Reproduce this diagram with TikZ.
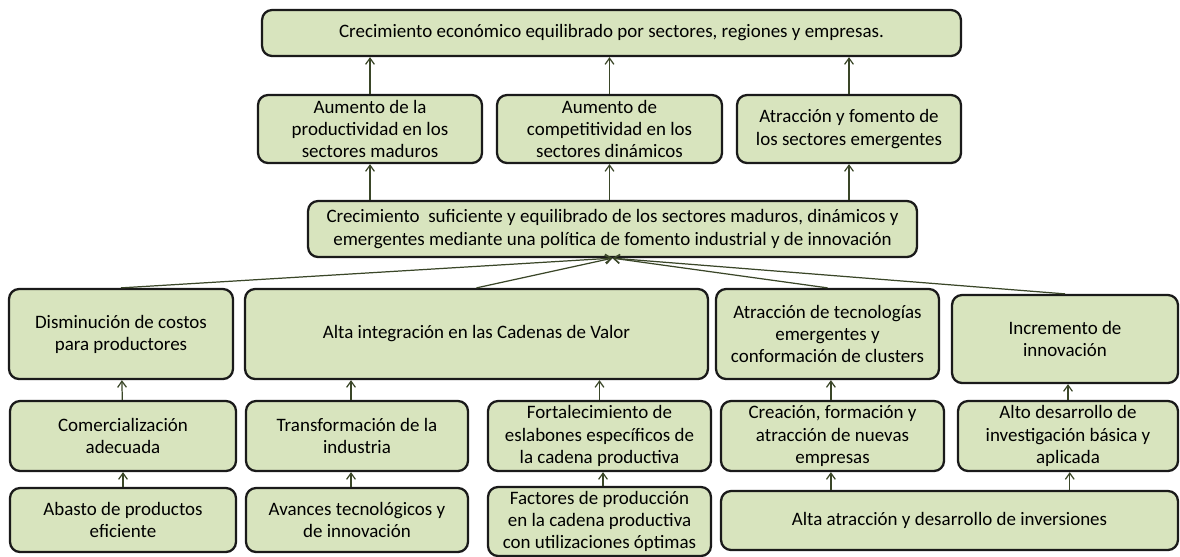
\documentclass[tikz,border=0pt]{standalone}
\usepackage{fontspec}
\setmainfont{Carlito}
\usepackage{tikz}
\usetikzlibrary{arrows.meta}
\usepackage{xcolor}
\definecolor{boxfill}{HTML}{D8E4BE}
\definecolor{boxline}{HTML}{1A1A1A}
\definecolor{linkcol}{HTML}{3A4628}

\begin{document}
\begin{tikzpicture}[
    x=0.02cm, y=-0.02cm,
    box/.style={
        rectangle, rounded corners=0.2cm, draw=boxline, line width=1.3pt,
        fill=boxfill, align=center, inner sep=0pt,
        font=\fontsize{10.8}{12.6}\selectfont
    },
    edge/.style={-{Straight Barb[length=3.5pt,width=5pt]}, linkcol, line width=0.7pt},
]
\useasboundingbox (0,0) rectangle (1180,556);

% Top level
\node[box, minimum width=13.98cm, minimum height=0.92cm] (crec) at (611.5,33)
    {Crecimiento económico equilibrado por sectores, regiones y empresas.};

% Sectors
\node[box, minimum width=4.48cm, minimum height=1.36cm] (prod) at (370,129)
    {Aumento de la\\productividad en los\\sectores maduros};
\node[box, minimum width=4.5cm, minimum height=1.36cm] (comp) at (609.5,129)
    {Aumento de\\competitividad en los\\sectores dinámicos};
\node[box, minimum width=4.48cm, minimum height=1.36cm] (emer) at (849,129)
    {Atracción y fomento de\\los sectores emergentes};

% Industrial policy
\node[box, minimum width=12.18cm, minimum height=1.12cm] (polit) at (612.5,229)
    {Crecimiento\ \ suficiente y equilibrado de los sectores maduros, dinámicos y\\
     emergentes mediante una política de fomento industrial y de innovación};

% Third level
\node[box, minimum width=4.48cm, minimum height=1.8cm] (costos) at (121,334)
    {Disminución de costos\\para productores};
\node[box, minimum width=9.26cm, minimum height=1.8cm] (cadenas) at (476.5,334)
    {Alta integración en las Cadenas de Valor};
\node[box, minimum width=4.46cm, minimum height=1.8cm] (clusters) at (827.5,334)
    {Atracción de tecnologías\\emergentes y\\conformación de clusters};
\node[box, minimum width=4.52cm, minimum height=1.76cm] (innov) at (1065,339)
    {Incremento de\\innovación};

% Fourth level
\node[box, minimum width=4.52cm, minimum height=1.4cm] (comerc) at (123,436)
    {Comercialización\\adecuada};
\node[box, minimum width=4.44cm, minimum height=1.4cm] (transf) at (357,436)
    {Transformación de la\\industria};
\node[box, minimum width=4.46cm, minimum height=1.4cm] (fortal) at (599.5,436)
    {Fortalecimiento de\\eslabones específicos de\\la cadena productiva};
\node[box, minimum width=4.46cm, minimum height=1.4cm] (creac) at (832.5,436)
    {Creación, formación y\\atracción de nuevas\\empresas};
\node[box, minimum width=4.4cm, minimum height=1.4cm] (invest) at (1068,436)
    {Alto desarrollo de\\investigación básica y\\aplicada};

% Bottom level
\node[box, minimum width=4.52cm, minimum height=1.28cm] (abasto) at (123,520)
    {Abasto de productos\\eficiente};
\node[box, minimum width=4.44cm, minimum height=1.28cm] (avances) at (357,520)
    {Avances tecnológicos y\\de innovación};
\node[box, minimum width=4.46cm, minimum height=1.38cm] (factores) at (599.5,521.5)
    {Factores de producción\\en la cadena productiva\\con utilizaciones óptimas};
\node[box, minimum width=9.14cm, minimum height=1.18cm] (inver) at (949.5,520.5)
    {Alta atracción y desarrollo de inversiones};

% Links to the top
\draw[edge] (prod) -- (prod |- crec.south);
\draw[edge] (comp) -- (comp |- crec.south);
\draw[edge] (emer) -- (emer |- crec.south);
\draw[edge] (prod |- polit.north) -- (prod);
\draw[edge] (comp |- polit.north) -- (comp);
\draw[edge] (emer |- polit.north) -- (emer);

% Links into the policy box
\draw[edge] (costos.north) -- (polit.south);
\draw[edge] (cadenas.north) -- (polit.south);
\draw[edge] (clusters.north) -- (polit.south);
\draw[edge] (innov.north) -- (polit.south);

% Lower links
\draw[edge] (comerc) -- (costos);
\draw[edge] ([xshift=-3.4pt]transf.north) -- ([xshift=-3.4pt]transf.north |- cadenas.south);
\draw[edge] (fortal) -- (fortal |- cadenas.south);
\draw[edge] ([xshift=-0.9pt]creac.north) -- ([xshift=-0.9pt]creac.north |- clusters.south);
\draw[edge] (invest) -- (invest |- innov.south);
\draw[edge] (abasto) -- (comerc);
\draw[edge] ([xshift=-3.4pt]avances.north) -- ([xshift=-3.4pt]transf.south);
\draw[edge] ([xshift=2pt]factores.north) -- ([xshift=2pt]fortal.south);
\draw[edge] ([xshift=-0.9pt]creac.south |- inver.north) -- ([xshift=-0.9pt]creac.south);
\draw[edge] ([xshift=1pt]invest.south |- inver.north) -- ([xshift=1pt]invest.south);

\end{tikzpicture}
\end{document}
